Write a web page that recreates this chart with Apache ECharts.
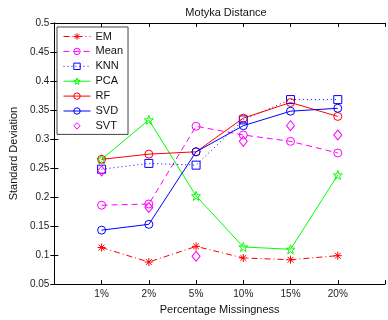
<!DOCTYPE html>
<html>
<head>
<meta charset="utf-8">
<script src="https://cdn.jsdelivr.net/npm/echarts@6/dist/echarts.min.js"></script>
<style>
  html, body { margin: 0; padding: 0; background: #fff; }
  #main { width: 388px; height: 320px; }
</style>
</head>
<body>
<div id="main"></div>
<script>
// data
var categories = ['1%', '2%', '5%', '10%', '15%', '20%'];
var yTicks = [0.05, 0.5, 0.05]; // min, max, step
var emVals   = [0.113, 0.088, 0.115, 0.095, 0.092, 0.099];
var meanVals = [0.186, 0.188, 0.322, 0.307, 0.296, 0.276];
var knnVals  = [0.248, 0.258, 0.255, 0.333, 0.368, 0.368];
var pcaVals  = [0.265, 0.333, 0.202, 0.114, 0.110, 0.238];
var rfVals   = [0.265, 0.274, 0.278, 0.336, 0.363, 0.339];
var svdVals  = [0.143, 0.153, 0.278, 0.323, 0.348, 0.353];
var svtVals  = [0.245, 0.182, 0.098, 0.296, 0.323, 0.307];

var font = 'Arial, "Liberation Sans", sans-serif';
var asterisk = 'path://M0,-5L0,5M-5,0L5,0M-3.6,-3.6L3.6,3.6M-3.6,3.6L3.6,-3.6';
var star = 'path://M0,-10L2.35,-3.24L9.51,-3.09L3.8,1.24L5.88,8.09L0,4L-5.88,8.09L-3.8,1.24L-9.51,-3.09L-2.35,-3.24Z';

function pts(vals) {
  return vals.map(function (v, i) { return [i + 1, v]; });
}

function lineSeries(name, vals, color, type, symbol, size, noLine) {
  return {
    name: name,
    type: 'line',
    data: pts(vals),
    symbol: symbol,
    symbolSize: size,
    lineStyle: { color: color, width: noLine ? 0 : 1, opacity: noLine ? 0 : 1, type: type },
    itemStyle: { color: 'rgba(0,0,0,0)', borderColor: color, borderWidth: 1 },
    emphasis: { disabled: true }
  };
}

var myChart = echarts.init(document.getElementById('main'));

var option = {
  animation: false,
  backgroundColor: '#fff',
  textStyle: { fontFamily: font },
  title: {
    text: 'Motyka Distance',
    left: 221,
    top: 2,
    textAlign: 'center',
    textStyle: { fontSize: 11, fontWeight: 'normal', color: '#111', fontFamily: font }
  },
  legend: {
    orient: 'vertical',
    left: 57,
    top: 27,
    padding: [4, 5, 3, 6],
    itemWidth: 27,
    itemHeight: 8,
    itemGap: 3.9,
    backgroundColor: '#fff',
    borderColor: '#444',
    borderWidth: 1,
    lineStyle: { width: 1 },
    itemStyle: { borderWidth: 1 },
    textStyle: { fontSize: 11, lineHeight: 10, color: '#111', fontFamily: font },
    data: ['EM', 'Mean', 'KNN', 'PCA', 'RF', 'SVD', 'SVT']
  },
  grid: { left: 52, right: -3, top: 23, bottom: 30 },
  xAxis: [{
    type: 'value',
    min: 0, max: 7, interval: 1,
    name: 'Percentage Missingness',
    nameLocation: 'middle',
    nameGap: 16,
    nameTextStyle: { fontSize: 11, color: '#111' },
    axisLine: { lineStyle: { color: '#000' } },
    axisTick: { inside: true, length: 4, lineStyle: { color: '#000' } },
    axisLabel: {
      fontSize: 10, color: '#222', margin: 5,
      formatter: function (v) { return categories[v - 1] || ''; }
    },
    splitLine: { show: false }
  }, {
    type: 'value',
    position: 'top',
    min: 0, max: 7, interval: 1,
    axisLine: { lineStyle: { color: '#000' } },
    axisTick: { inside: true, length: 4, lineStyle: { color: '#000' } },
    axisLabel: { show: false },
    splitLine: { show: false }
  }],
  yAxis: [{
    type: 'value',
    min: yTicks[0], max: yTicks[1], interval: yTicks[2],
    name: 'Standard Deviation',
    nameLocation: 'middle',
    nameGap: 25,
    nameTextStyle: { fontSize: 11, color: '#111' },
    axisLine: { show: true, lineStyle: { color: '#000' } },
    axisTick: { show: true, inside: true, length: 4, lineStyle: { color: '#000' } },
    axisLabel: {
      fontSize: 10, color: '#222', margin: 5,
      formatter: function (v) { return String(Math.round(v * 100) / 100); }
    },
    splitLine: { show: false }
  }, {
    type: 'value',
    position: 'right',
    min: yTicks[0], max: yTicks[1], interval: yTicks[2],
    axisLine: { show: true, lineStyle: { color: '#000' } },
    axisTick: { show: true, inside: true, length: 4, lineStyle: { color: '#000' } },
    axisLabel: { show: false },
    splitLine: { show: false }
  }],
  series: [
    lineSeries('EM', emVals, '#ff0000', [6, 3, 1, 3], asterisk, 8),
    lineSeries('Mean', meanVals, '#ff00ff', [6, 4], 'circle', 8),
    lineSeries('KNN', knnVals, '#0000ff', [1, 3], 'rect', 8),
    lineSeries('PCA', pcaVals, '#00ff00', 'solid', star, 9),
    lineSeries('RF', rfVals, '#ff0000', 'solid', 'circle', 8),
    lineSeries('SVD', svdVals, '#0000ff', 'solid', 'circle', 8),
    lineSeries('SVT', svtVals, '#ff00ff', 'solid', 'diamond', [8, 10], true)
  ]
};
myChart.setOption(option);
</script>
</body>
</html>
